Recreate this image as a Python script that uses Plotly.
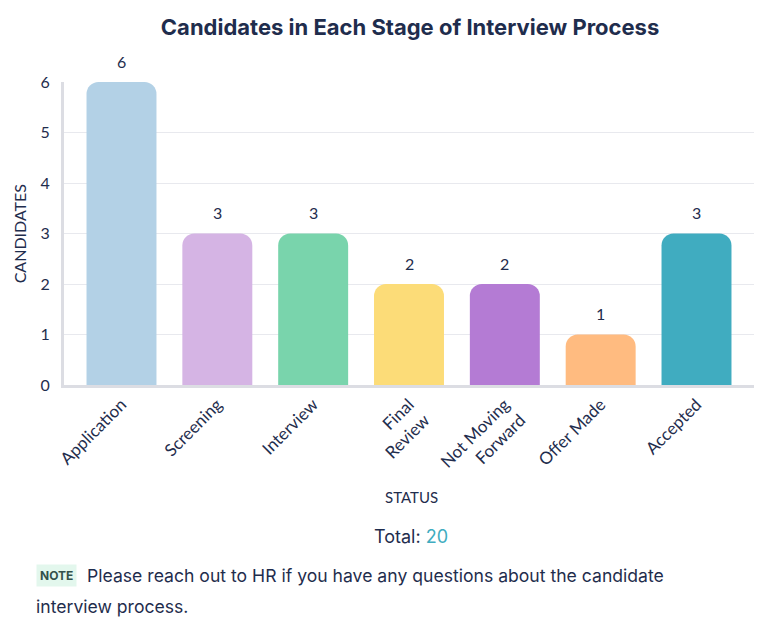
import plotly.graph_objects as go

categories = ["Application", "Screening", "Interview", "Final<br>Review", "Not Moving<br>Forward", "Offer Made", "Accepted"]
values = [6, 3, 3, 2, 2, 1, 3]
colors = ["#b3d1e6", "#d5b4e4", "#79d4ac", "#fcdc78", "#b47bd4", "#ffbb80", "#40acc0"]
y_ticks = [0, 1, 2, 3, 4, 5, 6]

navy = "#1f2d4d"
fig = go.Figure(go.Bar(
    x=list(range(len(categories))), y=values,
    marker=dict(color=colors, line=dict(width=0)),
    width=0.73,
    hoverinfo="x+y",
))
for i, v in enumerate(values):
    fig.add_annotation(x=i, y=v, text=str(v), showarrow=False, yshift=21, yanchor="middle",
                       font=dict(family="Lato", size=16, color=navy))
fig.update_layout(
    width=760, height=621,
    margin=dict(l=56, r=14, t=74, b=244, autoexpand=False),
    paper_bgcolor="white", plot_bgcolor="white",
    barcornerradius=12,
    showlegend=False,
    title=dict(text="<b>Candidates in Each Stage of Interview Process</b>", x=0.529, xanchor="center", y=0.969, yanchor="middle",
               font=dict(family="Inter", size=22, color=navy)),
    xaxis=dict(tickvals=list(range(len(categories))), ticktext=categories, range=[-0.6, 6.6],
               tickangle=-45, tickfont=dict(family="Lato", size=17, color=navy), automargin=False,
               showline=True, linecolor="#dcdde3", linewidth=3, showgrid=False, ticks="", fixedrange=True),
    yaxis=dict(range=[0, 6], tickvals=y_ticks, tickfont=dict(family="Lato", size=16, color=navy), automargin=False,
               showline=True, linecolor="#dcdde3", linewidth=3, gridcolor="#e8e9ee", gridwidth=1,
               ticks="", ticklabelstandoff=8, zeroline=False),
)
fig.add_annotation(text="CANDIDATES", xref="paper", yref="paper", x=-0.064, y=0.5, textangle=-90,
                   showarrow=False, font=dict(family="Lato", size=16, color=navy), xanchor="center", yanchor="middle")
fig.add_annotation(text="STATUS", xref="paper", yref="paper", x=0.503, y=-0.37, showarrow=False,
                   font=dict(family="Lato", size=15, color=navy), xanchor="center", yanchor="middle")
fig.add_annotation(text="Total: <span style='color:#40acc0'>20</span>", xref="paper", yref="paper", x=0.503, y=-0.50,
                   showarrow=False, font=dict(family="Inter", size=18, color=navy), xanchor="center", yanchor="middle")
fig.add_annotation(text="<b>NOTE</b>", xref="paper", yref="paper", x=-0.011, y=-0.628, xanchor="center", yanchor="middle",
                   showarrow=False, bgcolor="#e3f7ed", borderpad=3,
                   font=dict(family="Inter", size=12, color="#33504a"))
fig.add_annotation(text="Please reach out to HR if you have any questions about the candidate", xref="paper", yref="paper",
                   x=0.03, y=-0.628, xanchor="left", yanchor="middle", showarrow=False,
                   font=dict(family="Inter", size=17.6, color=navy))
fig.add_annotation(text="interview process.", xref="paper", yref="paper",
                   x=-0.0435, y=-0.73, xanchor="left", yanchor="middle", showarrow=False,
                   font=dict(family="Inter", size=17.6, color=navy))
fig.write_html("out.html")
